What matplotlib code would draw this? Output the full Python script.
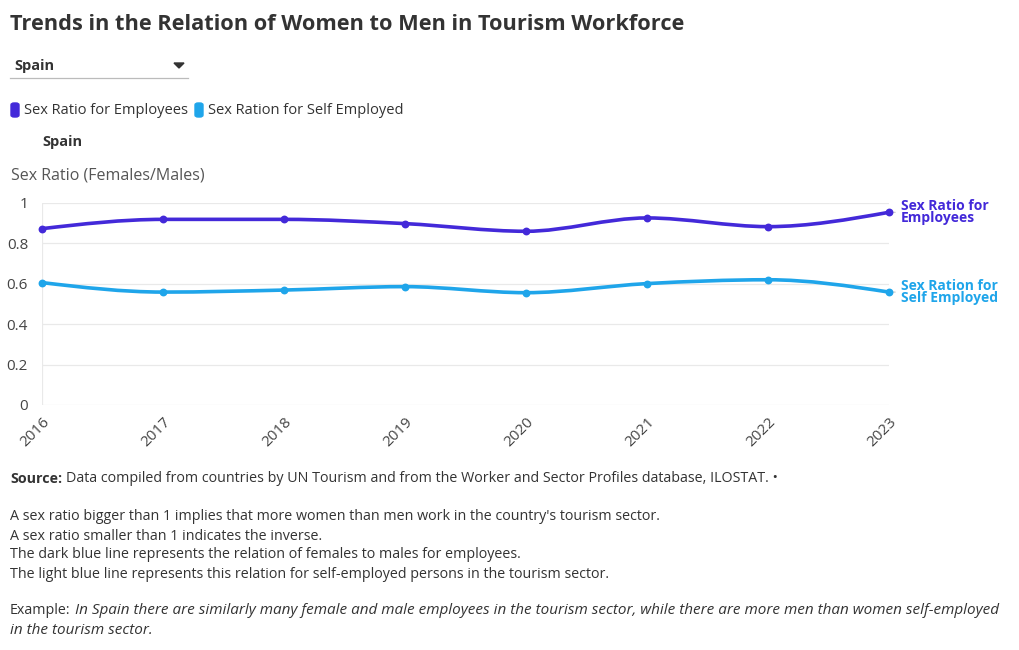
import numpy as np
import matplotlib.pyplot as plt
from matplotlib.path import Path
from matplotlib.patches import PathPatch, FancyBboxPatch, Polygon

# data (Spain)
years = [2016, 2017, 2018, 2019, 2020, 2021, 2022, 2023]
employees = [0.873, 0.919, 0.919, 0.898, 0.860, 0.926, 0.883, 0.954]
self_employed = [0.606, 0.559, 0.569, 0.586, 0.556, 0.601, 0.620, 0.559]
y_ticks = [0, 0.2, 0.4, 0.6, 0.8, 1]

EMP_COLOR = '#4329d9'
SELF_COLOR = '#1fa5ea'
TEXT = '#333333'
FONT = 'Open Sans'

W, H = 1020, 650


def fx(x):
    return x / W


def fy(y):
    return 1 - y / H


def monotone_path(xs, ys):
    # cubic bezier path like d3.curveMonotoneX
    xs = np.asarray(xs, float)
    ys = np.asarray(ys, float)
    n = len(xs)
    t = np.zeros(n)
    for i in range(1, n - 1):
        h0 = xs[i] - xs[i - 1]
        h1 = xs[i + 1] - xs[i]
        s0 = (ys[i] - ys[i - 1]) / h0
        s1 = (ys[i + 1] - ys[i]) / h1
        p = (s0 * h1 + s1 * h0) / (h0 + h1)
        t[i] = (np.sign(s0) + np.sign(s1)) * min(abs(s0), abs(s1), 0.5 * abs(p))
    h = xs[1] - xs[0]
    t[0] = (3 * (ys[1] - ys[0]) / h - t[1]) / 2
    h = xs[-1] - xs[-2]
    t[-1] = (3 * (ys[-1] - ys[-2]) / h - t[-2]) / 2
    verts = [(xs[0], ys[0])]
    codes = [Path.MOVETO]
    for i in range(n - 1):
        dx = (xs[i + 1] - xs[i]) / 3
        verts += [(xs[i] + dx, ys[i] + dx * t[i]),
                  (xs[i + 1] - dx, ys[i + 1] - dx * t[i + 1]),
                  (xs[i + 1], ys[i + 1])]
        codes += [Path.CURVE4] * 3
    return Path(verts, codes)


fig = plt.figure(figsize=(W / 100, H / 100), dpi=100)
plt.rcParams['font.family'] = [FONT, 'DejaVu Sans']

ax = fig.add_axes([fx(42), fy(405), fx(889) - fx(42), fy(203) - fy(405)])
ax.set_xlim(years[0], years[-1])
ax.set_ylim(0, 1)

for val in y_ticks:
    ax.axhline(val, color='#e9e9e9', linewidth=0.9, zorder=0)
ax.axvline(years[0], color='#e9e9e9', linewidth=0.9, zorder=0)

for vals, color in [(employees, EMP_COLOR), (self_employed, SELF_COLOR)]:
    ax.add_patch(PathPatch(monotone_path(years, vals), facecolor='none',
                           edgecolor=color, linewidth=2.6, zorder=3,
                           clip_on=False, capstyle='round'))
    ax.scatter(years, vals, s=32, color=color, zorder=4, clip_on=False,
               linewidths=0)

for s in ax.spines.values():
    s.set_visible(False)
ax.set_yticks(y_ticks)
ax.set_yticklabels(['0', '0.2', '0.4', '0.6', '0.8', '1'])
ax.set_xticks(years)
ax.set_xticklabels([str(y) for y in years], rotation=45, ha='right',
                   rotation_mode='anchor')
ax.tick_params(axis='both', length=0, labelsize=11, colors='#444444')
ax.tick_params(axis='y', pad=10)
ax.tick_params(axis='x', pad=7)

# end labels
for vals, color, label in [(employees, EMP_COLOR, 'Sex Ratio for\nEmployees'),
                           (self_employed, SELF_COLOR, 'Sex Ration for\nSelf Employed')]:
    ax.annotate(label, xy=(years[-1], vals[-1]), xytext=(8.6, 0),
                textcoords='offset points', va='center', ha='left',
                fontsize=10, fontweight='bold', color=color,
                linespacing=0.85, annotation_clip=False)
    ax.annotate('', xy=(years[-1], vals[-1]), xytext=(6.5, 0),
                textcoords='offset points',
                arrowprops=dict(arrowstyle='-', color='#bbbbbb', lw=0.7),
                annotation_clip=False)

# title
fig.text(fx(10), fy(24), 'Trends in the Relation of Women to Men in Tourism Workforce',
         fontsize=15.7, fontweight='bold', color=TEXT, va='center', ha='left')

# dropdown
fig.text(fx(14), fy(66), 'Spain', fontsize=10.5, fontweight='bold', color=TEXT,
         va='center', ha='left')
fig.add_artist(plt.Line2D([fx(10), fx(188)], [fy(78), fy(78)], color='#bbbbbb',
                          linewidth=0.9))
fig.add_artist(Polygon([[fx(174), fy(63)], [fx(184), fy(63)], [fx(179), fy(68)]],
                       closed=True, color=TEXT))

# legend
for x0, color, label in [(10, EMP_COLOR, 'Sex Ratio for Employees'),
                         (194, SELF_COLOR, 'Sex Ration for Self Employed')]:
    fig.add_artist(FancyBboxPatch((fx(x0 + 1), fy(117)), fx(8), fy(103) - fy(117),
                                  boxstyle='round,pad=0,rounding_size=0.003',
                                  color=color, transform=fig.transFigure))
    fig.text(fx(x0 + 14), fy(110), label, fontsize=10.5, color=TEXT,
             va='center', ha='left')

fig.text(fx(42), fy(142), 'Spain', fontsize=10.5, fontweight='bold', color=TEXT,
         va='center', ha='left')
fig.text(fx(11), fy(176), 'Sex Ratio (Females/Males)', fontsize=11.5,
         color='#555555', va='center', ha='left')

# notes
NOTE = 10.3
fig.text(fx(10), fy(479), 'Source:', fontsize=NOTE, fontweight='bold',
         color=TEXT, va='center', ha='left')
fig.text(fx(66), fy(479),
         'Data compiled from countries by UN Tourism and from the Worker and Sector '
         'Profiles database, ILOSTAT. \u2022',
         fontsize=NOTE, color=TEXT, va='center', ha='left')
notes = [
    "A sex ratio bigger than 1 implies that more women than men work in the country's tourism sector.",
    'A sex ratio smaller than 1 indicates the inverse.',
    'The dark blue line represents the relation of females to males for employees.',
    'The light blue line represents this relation for self-employed persons in the tourism sector.',
]
for i, line in enumerate(notes):
    fig.text(fx(10), fy(517 + 19 * i), line, fontsize=NOTE, color=TEXT,
             va='center', ha='left')
fig.text(fx(10), fy(611), 'Example:', fontsize=NOTE, color=TEXT,
         va='center', ha='left')
fig.text(fx(75), fy(611),
         'In Spain there are similarly many female and male employees in the tourism '
         'sector, while there are more men than women self-employed',
         fontsize=11, style='italic', color=TEXT, va='center', ha='left')
fig.text(fx(10), fy(630), 'in the tourism sector.', fontsize=11, style='italic',
         color=TEXT, va='center', ha='left')

fig.savefig('out.png', dpi=100, facecolor='white')
